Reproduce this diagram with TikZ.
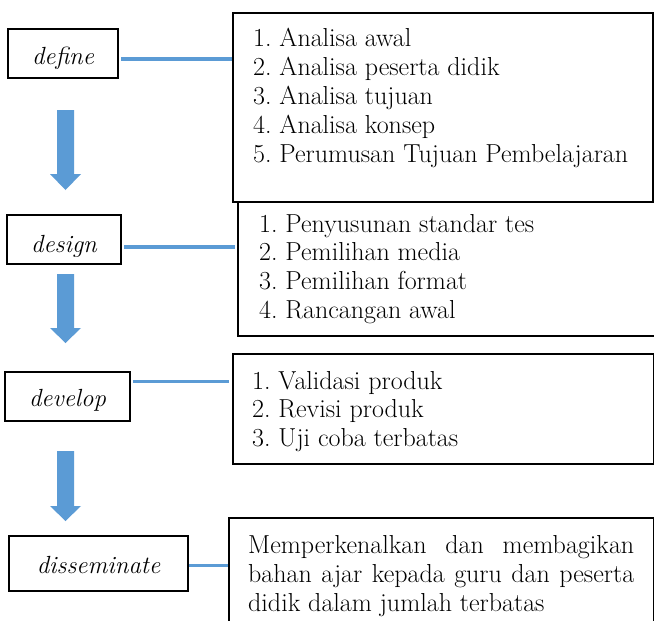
\documentclass[tikz,border=0pt]{standalone}
\definecolor{lblue}{HTML}{5B9BD5}
\frenchspacing
\tikzset{
  box/.style={draw=black, line width=2pt, inner sep=0pt, anchor=north west},
  lbox/.style={draw=black, line width=2pt, inner sep=0pt},
  conn/.style={draw=lblue, line width=3.5pt},
  txt/.style={font=\fontsize{26}{28.7}\selectfont, inner sep=0pt, anchor=base west},
  ltxt/.style={font=\fontsize{24.8}{28.7}\selectfont\itshape, inner sep=0pt, anchor=base},
  barrow/.style={fill=lblue, draw=none}
}
\begin{document}
\begin{tikzpicture}[x=1pt, y=-1pt]
\path[use as bounding box, clip] (0,0) rectangle (654,621);
\fill[white] (0,0) rectangle (654,621);

% left stage boxes
\node[lbox, minimum width=110pt, minimum height=49pt] (define) at (63,53.5) {};
\node[lbox, minimum width=114pt, minimum height=49pt] (design) at (64,239.5) {};
\node[lbox, minimum width=125pt, minimum height=49pt] (develop) at (67.5,396.5) {};
\node[lbox, minimum width=179pt, minimum height=55pt] (dissem) at (98.5,563.5) {};

\node[ltxt] (defineT) at (63,64) {define};
\node[ltxt] (designT) at (64,252) {design};
\node[ltxt] (developT) at (67.5,406) {develop};
\node[ltxt] (dissemT) at (98.5,573) {disseminate};

% right boxes
\node[box, minimum width=420pt, minimum height=189pt] (b1) at (232,12) {};
\node[box, minimum width=430pt, minimum height=134pt] (b2) at (237,201) {};
\node[box, minimum width=421pt, minimum height=110pt] (b3) at (232,353) {};
\node[box, minimum width=425pt, minimum height=140pt] (b4) at (228,517) {};

% box texts
\node[txt] (t11) at (253,46) {1. Analisa awal};
\node[txt] (t12) at (253,75) {2. Analisa peserta didik};
\node[txt] (t13) at (253,104) {3. Analisa tujuan};
\node[txt] (t14) at (253,133) {4. Analisa konsep};
\node[txt] (t15) at (253,162) {5. Perumusan Tujuan Pembelajaran};

\node[txt] (t21) at (259,232) {1. Penyusunan standar tes};
\node[txt] (t22) at (259,260.7) {2. Pemilihan media};
\node[txt] (t23) at (259,289.4) {3. Pemilihan format};
\node[txt] (t24) at (259,318) {4. Rancangan awal};

\node[txt] (t31) at (252,389) {1. Validasi produk};
\node[txt] (t32) at (252,417.5) {2. Revisi produk};
\node[txt] (t33) at (252,446) {3. Uji coba terbatas};

\node[txt] (t41) at (248,553) {\makebox[386pt][s]{Memperkenalkan dan membagikan}};
\node[txt] (t42) at (248,582) {\makebox[386pt][s]{bahan ajar kepada guru dan peserta}};
\node[txt] (t43) at (248,611) {didik dalam jumlah terbatas};

% connectors
\coordinate (l1) at (0,59);
\coordinate (l2) at (0,247);
\coordinate (l3) at (0,381.5);
\coordinate (l4) at (0,565.5);
\draw[conn] ([xshift=2pt]define.east |- l1) -- (b1.west |- l1);
\draw[conn] ([xshift=2pt]design.east |- l2) -- ([xshift=-2pt]b2.west |- l2);
\draw[conn] ([xshift=2pt]develop.east |- l3) -- ([xshift=-3pt]b3.west |- l3);
\draw[conn] (dissem.east |- l4) -- (b4.west |- l4);

% block arrows
\foreach \t/\b/\p in {110/174/190, 274/328/343, 451/506/521}{
  \fill[lblue] (57,\t) -- (74,\t) -- (74,\b) -- (81,\b) -- (65.5,\p) -- (50,\b) -- (57,\b) -- cycle;
}
\end{tikzpicture}
\end{document}
